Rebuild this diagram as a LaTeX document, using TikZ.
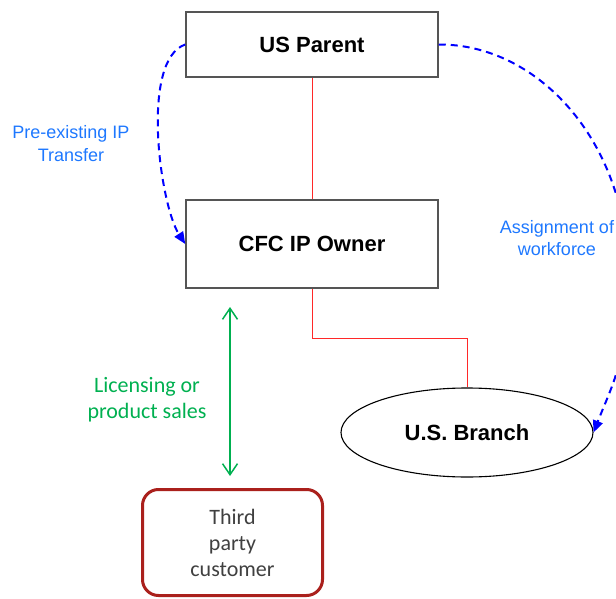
\documentclass[tikz,border=0pt]{standalone}
\usepackage{fontspec}
\setmainfont{Liberation Sans}
\newfontfamily\calib{Carlito}
\usetikzlibrary{arrows.meta,shapes.geometric}
\definecolor{boxgray}{RGB}{85,85,85}
\definecolor{linkred}{RGB}{255,40,40}
\definecolor{arrblue}{RGB}{0,0,255}
\definecolor{lblblue}{RGB}{30,120,255}
\definecolor{grn}{RGB}{0,176,80}
\definecolor{tpred}{RGB}{170,32,28}
\definecolor{txtgray}{RGB}{64,64,64}
\tikzset{
  entity/.style={draw=boxgray, line width=1.5pt, fill=white, inner sep=0pt,
    minimum width=252pt, font=\fontsize{22}{26}\selectfont\bfseries},
  branch/.style={draw=black, line width=1.1pt, ellipse, inner sep=0pt,
    minimum width=252pt, minimum height=89pt, font=\fontsize{22}{26}\selectfont\bfseries},
  tpbox/.style={draw=tpred, line width=3pt, rounded corners=16pt, inner sep=0pt,
    minimum width=180pt, minimum height=106pt, align=center, text=txtgray,
    font=\calib\fontsize{22}{26}\selectfont},
  ownlink/.style={draw=linkred, line width=1pt},
  flow/.style={draw=arrblue, line width=2pt, dash pattern=on 7pt off 5pt,
    -{Triangle[length=12pt,width=10pt]}},
  lic/.style={draw=grn, line width=1.5pt,
    {Straight Barb[length=11pt,width=15pt]}-{Straight Barb[length=11pt,width=15pt]}},
  bluelbl/.style={text=lblblue, align=center, font=\fontsize{18}{22.5}\selectfont},
  grnlbl/.style={text=grn, align=center, font=\calib\fontsize{22}{26}\selectfont}
}
\begin{document}
\begin{tikzpicture}[x=1pt,y=-1pt]
\useasboundingbox (0,0) rectangle (616,599);
\clip (0,0) rectangle (616,599);
\node[entity, minimum height=65pt] (us) at (312,44.5) {US Parent};
\node[entity, minimum height=88pt] (cfc) at (312,244) {CFC IP Owner};
\node[branch] (br) at (467,432.5) {U.S. Branch};
\node[tpbox] (tp) at (232.5,542.5) {Third\\party\\customer};

\draw[ownlink] (us.south) -- (cfc.north);
\draw[ownlink] (cfc.south) -- ++(0,50) -| (br.north);

\draw[flow] (us.west) .. controls (140,60) and (160,205) .. (cfc.west);
\draw[flow] (us.east) .. controls (540,44) and (630,145) .. (628,280)
  .. controls (628,360) and (612,385) .. (br.east);

\coordinate (g1) at (230,307);
\coordinate (g2) at (230,476);
\draw[lic] (g1) -- (g2);

\node[bluelbl] (lpre) at (71,143.5) {Pre-existing IP\\Transfer};
\node[bluelbl] (lasg) at (557,238) {Assignment of\\workforce};
\node[grnlbl] (llic) at (147,400) {Licensing or\\product sales};
\end{tikzpicture}
\end{document}
